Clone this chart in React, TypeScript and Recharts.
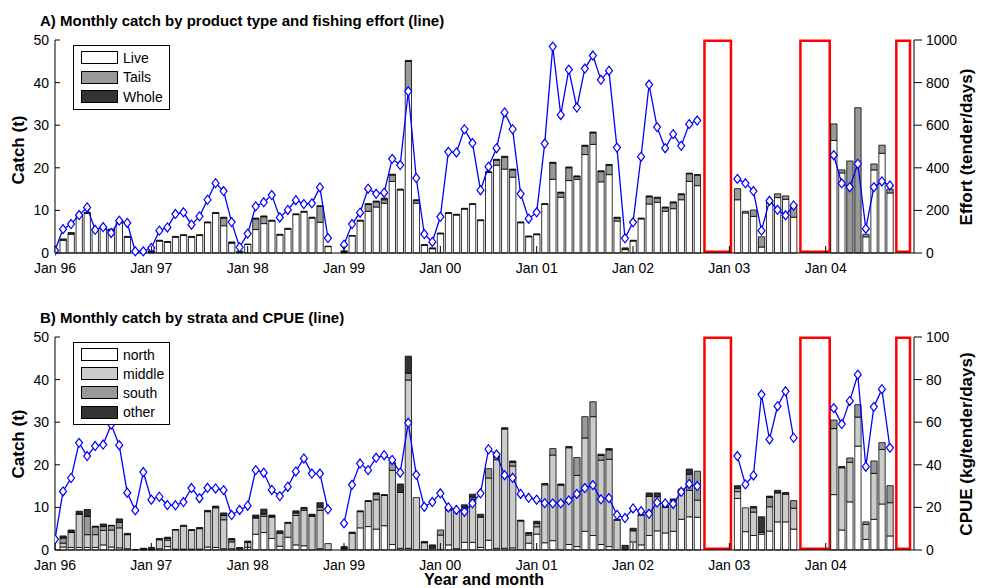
import React from "react";
import { ComposedChart, Bar, Line, XAxis, YAxis, ReferenceArea } from "recharts";

// month index 0 = Jan 96 ... 107 = Dec 04
const yearLabels = ["Jan 96", "Jan 97", "Jan 98", "Jan 99", "Jan 00", "Jan 01", "Jan 02", "Jan 03", "Jan 04"];
const yearTicks = [0, 12, 24, 36, 48, 60, 72, 84, 96];

// closed seasons (month index ranges), drawn as red boxes
const closedPeriods = [
  [80.9, 84.2],
  [92.85, 96.5],
  [104.8, 106.5],
];

// A) catch by product type (t)
const live = [
  0, 3.0, 4.4, 8.8, 9.3, 5.4, 5.9, 5.4, 7.1, 3.7,
  0, 0, 0.2, 2.8, 2.5, 3.7, 4.1, 3.7, 4.1, 7.1,
  9.3, 6.4, 2.3, 0, 2.0, 5.5, 6.9, 7.5, 4.2, 5.6,
  9.0, 9.6, 8.2, 7.2, 1.5, null, 0.2, 4.0, 7.5, 9.8,
  10.8, 11.7, 16.8, 14.8, 38.3, 11.7, 1.8, 1.0, 4.5, 9.3,
  8.9, 10.3, 11.4, 7.6, 18.9, 20.6, 19.7, 17.8, 7.1, 3.8,
  4.3, 11.4, 17.3, 13.1, 17.0, 17.3, 23.1, 25.5, 16.7, 18.4,
  7.5, 0.8, 2.8, 8.0, 11.5, 11.9, 9.8, 10.4, 12.5, 16.8,
  15.8, null, null, null, null, 12.5, 9.4, 8.6, 1.4, 11.7,
  13.0, 12.6, 8.4, null, null, null, null, 26.4, 18.8, 0,
  0, 3.8, 19.5, 23.4, 14.1, null, null, null,
];
const tails = [
  0, 0, 0, 0, 0, 0, 0, 0, 0, 0,
  0, 0, 0, 0, 0, 0, 0, 0, 0, 0,
  0, 1.8, 0, 0, 0, 2.5, 1.6, 0, 0, 0,
  0, 0, 0, 3.75, 0, null, 0, 0, 0, 1.6,
  1.2, 0.8, 1.5, 0, 6.7, 0.6, 0, 0, 0, 0,
  0, 0, 0, 0, 0, 1.2, 2.8, 1.7, 0, 0,
  0, 0, 3.8, 1.0, 3.0, 0.6, 2.0, 2.7, 2.4, 2.2,
  0.7, 0, 0, 0, 1.7, 1.0, 0.8, 1.4, 1.2, 1.8,
  2.5, null, null, null, null, 2.6, 0.4, 1.5, 2.4, 0.4,
  0.9, 0.8, 3.1, null, null, null, null, 3.9, 0.7, 21.6,
  34.1, 0.6, 1.4, 1.9, 0.9, null, null, null,
];
const whole = [
  0, 0.3, 0.4, 0.2, 0.2, 0.2, 0.2, 0.2, 0.3, 0.2,
  0.1, 0.1, 0.3, 0.2, 0.2, 0.2, 0.2, 0.2, 0.2, 0.2,
  0.2, 0.2, 0.3, 0.4, 0.1, 0.2, 0.2, 0.2, 0.2, 0.2,
  0.2, 0.2, 0.2, 0.15, 0.1, null, 0.3, 0.1, 0.2, 0.2,
  0.2, 0.4, 0.2, 0.2, 0.2, 0.2, 0.2, 0.2, 0.2, 0.2,
  0.2, 0.2, 0.2, 0.2, 0.2, 0.2, 0.2, 0.2, 0.2, 0.2,
  0.2, 0.2, 0.2, 0.2, 0.2, 0.2, 0.2, 0.2, 0.2, 0.2,
  0.2, 0.4, 0.2, 0.2, 0.2, 0.2, 0.2, 0.2, 0.2, 0.15,
  0.1, null, null, null, null, 0, 0, 0, 0, 0,
  0, 0, 0, null, null, null, null, 0, 0, 0,
  0, 0, 0, 0, 0, null, null, null,
];
// fishing effort (tender days)
const effort = [
  12, 112, 136, 178, 214, 109, 122, 94, 152, 141,
  8, 8, 23, 105, 120, 183, 191, 133, 172, 250,
  328, 291, 145, 27, 91, 219, 238, 272, 167, 202,
  248, 230, 233, 308, 70, null, 39, 136, 189, 302,
  278, 283, 442, 413, 759, 352, 89, 52, 170, 475,
  472, 581, 516, 295, 405, 492, 660, 581, 278, 161,
  191, 514, 969, 648, 861, 683, 866, 927, 813, 856,
  495, 69, 144, 452, 791, 591, 492, 558, 503, 605,
  622, null, null, null, null, 348, 327, 291, 105, 245,
  203, 177, 223, null, null, null, null, 459, 327, 309,
  419, 114, 309, 336, 317, null, null, null,
];

// B) catch by strata (t)
const north = [
  0, 0.7, 0.6, 0.6, 0.6, 0.6, 1.2, 0.7, 0.5, 0.3,
  0, 0, 0, 0.3, 0.8, 0.2, 0.2, 0.2, 0.2, 0.7,
  0.6, 0.3, 0.3, 0, 0.6, 3.7, 4.1, 2.7, 0.9, 3.0,
  1.2, 1.0, 0, 0.3, 0, null, 0, 0, 5.2, 5.5,
  4.9, 5.7, 1.3, 0.4, 0.4, 0, 0, 0, 0, 1.2,
  0.3, 1.8, 1.8, 0.6, 2.3, 0.4, 0.4, 0.5, 0, 1.6,
  3.75, 1.7, 2.2, 0, 1.3, 0.8, 4.4, 3.4, 1.3, 0.8,
  0, 0, 1.9, 1.2, 3.4, 4.5, 4.0, 4.4, 7.2, 7.8,
  7.7, null, null, null, null, 12.1, 4.3, 3.4, 3.7, 4.45,
  6.6, 6.6, 4.9, null, null, null, null, 13.0, 4.7, 11.3,
  24.4, 2.5, 7.2, 10.8, 3.3, null, null, null,
];
const middle = [
  0, 0.9, 3.5, 7.8, 3.0, 3.0, 3.4, 4.0, 4.7, 3.3,
  0, 0.2, 0.1, 2.1, 1.5, 4.5, 5.4, 4.4, 4.8, 8.3,
  9.3, 6.8, 1.6, 0.3, 1.2, 3.8, 3.8, 5.0, 3.0, 3.3,
  6.9, 8.3, 7.9, 9.0, 1.5, null, 0.3, 3.9, 3.8, 5.9,
  6.9, 7.1, 17.4, 13.1, 39.5, 12.3, 1.7, 0.4, 3.5, 8.1,
  9.0, 7.7, 10.1, 7.1, 14.6, 20.8, 28.0, 19.2, 6.8, 1.9,
  1.7, 13.6, 20.1, 15.2, 22.7, 16.7, 21.9, 27.9, 19.8, 20.5,
  7.0, 0, 2.6, 7.0, 9.2, 8.0, 6.0, 7.2, 6.9, 6.2,
  4.0, null, null, null, null, 1.6, 5.6, 5.5, 0.4, 5.7,
  6.8, 6.5, 4.9, null, null, null, null, 15.5, 14.6, 9.3,
  6.8, 3.5, 10.8, 12.8, 7.8, null, null, null,
];
const south = [
  0, 1.2, 0.1, 0.1, 4.3, 1.8, 0.9, 1.0, 1.3, 0,
  0, 0, 0, 0, 0.4, 0, 0, 0, 0, 0,
  0, 1.0, 0.5, 0, 0, 0.2, 0.5, 0.2, 0, 0,
  0.6, 0.4, 0.2, 0.8, 0, null, 0, 0, 0, 0,
  1.3, 0, 1.8, 0, 1.6, 0, 0, 0.3, 1.2, 0.4,
  0, 0.5, 0.5, 0, 2.2, 0.6, 0, 0.9, 0, 0.4,
  0.8, 0, 1.5, 0, 0, 4.2, 5.0, 3.5, 1.1, 2.2,
  0, 0, 0, 0, 0, 0, 0, 0, 0, 3.8,
  6.8, null, null, null, null, 0.8, 0, 1.0, 0, 2.2,
  0, 0, 1.8, null, null, null, null, 2.0, 0, 1.0,
  2.9, 0.6, 2.9, 1.6, 4.0, null, null, null,
];
const other = [
  0, 0.5, 0.5, 0.6, 1.6, 0.2, 0.6, 0.1, 0.8, 0.3,
  0.1, 0.2, 0.5, 0.3, 0.3, 0.1, 0.2, 0.2, 0.3, 0.3,
  0.4, 0.6, 0.3, 0.3, 0.3, 0.5, 1.2, 0.3, 0.6, 0.2,
  0.5, 0.3, 0.3, 1.0, 0, null, 0.5, 0.3, 0.2, 0.2,
  0.3, 0.2, 0, 2.0, 4.0, 0, 0.3, 0.5, 0, 0.3,
  0.3, 0.6, 0.7, 0.7, 0, 0.3, 0.3, 0.3, 0.2, 0.2,
  0.5, 0.3, 0, 0.3, 0.3, 0, 0, 0, 0.3, 0.3,
  0.2, 1.1, 0.6, 0.2, 0.8, 0.9, 0.5, 0.4, 0.2, 1.2,
  0, null, null, null, null, 0.6, 0, 0.3, 3.7, 0.3,
  0.6, 0.4, 0, null, null, null, null, 0, 0.3, 0,
  0, 0, 0, 0, 0, null, null, null,
];
// CPUE (kg/tender day)
const cpue = [
  5.0, 27.5, 33.8, 50.3, 44.1, 48.8, 49.5, 58.9, 49.2, 26.9,
  18.6, 36.6, 23.6, 25.0, 21.1, 21.0, 22.5, 29.1, 24.3, 29.2,
  28.9, 28.1, 16.4, 18.8, 20.8, 37.5, 36.3, 28.2, 25.3, 29.7,
  36.9, 43.0, 35.9, 35.9, 19.1, null, 12.5, 30.6, 40.6, 37.5,
  43.3, 44.5, 42.3, 36.3, 59.7, 35.3, 20.3, 22.5, 26.6, 20.0,
  18.8, 18.0, 21.9, 26.6, 47.3, 44.8, 35.1, 33.9, 26.3, 24.5,
  23.6, 22.0, 21.9, 21.9, 23.3, 26.3, 29.1, 30.5, 23.8, 24.4,
  16.5, 15.0, 19.5, 18.2, 17.0, 22.3, 21.9, 21.6, 27.3, 31.0,
  30.0, null, null, null, null, 44.1, 30.8, 35.0, 73.0, 51.9,
  67.5, 74.5, 52.7, null, null, null, null, 66.6, 59.1, 70.0,
  82.3, 39.1, 67.2, 75.5, 48.0, null, null, null,
];

const rowsA = live.map((v, i) => ({ m: i, live: v, tails: tails[i], whole: whole[i], effort: effort[i] }));
const rowsB = north.map((v, i) => ({ m: i, north: v, middle: middle[i], south: south[i], other: other[i], cpue: cpue[i] }));

const FONT = "'Liberation Sans', Arial, sans-serif";

const Diamond = (props: any) => {
  const { cx, cy, value, index } = props;
  if (value == null || cx == null || cy == null) return <g key={"d" + index} />;
  return (
    <polygon
      key={"d" + index}
      points={`${cx},${cy - 4.5} ${cx + 3.5},${cy} ${cx},${cy + 4.5} ${cx - 3.5},${cy}`}
      fill="#fff"
      stroke="#0000ff"
      strokeWidth={1.2}
    />
  );
};

const XTick = (props: any) => {
  const { x, y, payload } = props;
  const axisY = y - 10;
  return (
    <g>
      <line x1={x} x2={x} y1={axisY} y2={axisY - 7} stroke="#000" strokeWidth={1} />
      <text x={x} y={y} dy="0.71em" textAnchor="middle" fontSize={14} fill="#000">
        {yearLabels[Math.round(payload.value / 12)]}
      </text>
    </g>
  );
};

const LeftTick = (props: any) => {
  const { x, y, payload } = props;
  const ax = x + 6;
  return (
    <g>
      <line x1={ax} x2={ax + 5} y1={y} y2={y} stroke="#000" strokeWidth={1} />
      <text x={x} y={y} dy="0.35em" textAnchor="end" fontSize={14} fill="#000">
        {payload.value}
      </text>
    </g>
  );
};

const legendA = [
  { name: "Live", color: "#ffffff" },
  { name: "Tails", color: "#999999" },
  { name: "Whole", color: "#333333" },
];
const legendB = [
  { name: "north", color: "#ffffff" },
  { name: "middle", color: "#cccccc" },
  { name: "south", color: "#999999" },
  { name: "other", color: "#333333" },
];

const LegendBox = ({ items, left, top, width, rowH }: any) => (
  <div
    style={{
      position: "absolute",
      left,
      top,
      width,
      boxSizing: "border-box",
      border: "1px solid #000",
      background: "#fff",
      padding: "2px 0 2px 7px",
    }}
  >
    {items.map((it: any) => (
      <div key={it.name} style={{ display: "flex", alignItems: "center", height: rowH }}>
        <span
          style={{
            display: "inline-block",
            width: 37,
            height: 13,
            background: it.color,
            border: "1px solid #000",
            boxSizing: "border-box",
          }}
        />
        <span style={{ marginLeft: 5, fontSize: 14, lineHeight: "14px" }}>{it.name}</span>
      </div>
    ))}
  </div>
);

const vLabel = (text: string, cx: number, cy: number) => (
  <div
    style={{
      position: "absolute",
      left: cx,
      top: cy,
      transform: "translate(-50%, -50%) rotate(-90deg)",
      whiteSpace: "nowrap",
      fontWeight: "bold",
      fontSize: 17,
    }}
  >
    {text}
  </div>
);

const closedBoxes = () =>
  closedPeriods.map(([a, b], i) => (
    <ReferenceArea
      key={"c" + i}
      yAxisId="left"
      x1={a}
      x2={b}
      y1={0.3}
      y2={49.8}
      fill="none"
      fillOpacity={0}
      stroke="#ff0000"
      strokeWidth={2.5}
      ifOverflow="visible"
    />
  ));

const xAxis = (
  <XAxis
    dataKey="m"
    type="number"
    domain={[0, 107]}
    ticks={yearTicks}
    allowDataOverflow
    height={30}
    tickSize={6}
    tickMargin={4}
    tickLine={false}
    tick={<XTick />}
    axisLine={{ stroke: "#000" }}
  />
);

export default function App() {
  return (
    <div style={{ position: "relative", width: 982, height: 588, fontFamily: FONT, color: "#000", background: "#fff", overflow: "hidden" }}>
      <style>{`body{margin:0;}`}</style>

      <div style={{ position: "absolute", left: 0, top: 0 }}>
        <ComposedChart width={982} height={296} data={rowsA} margin={{ top: 40, right: 8, bottom: 13, left: 0 }}>
          {xAxis}
          <YAxis
            yAxisId="left"
            width={55}
            domain={[0, 50]}
            ticks={[0, 10, 20, 30, 40, 50]}
            tickSize={4}
            tickMargin={2}
            tickLine={false}
            tick={<LeftTick />}
            axisLine={{ stroke: "#000" }}
          />
          <YAxis
            yAxisId="right"
            orientation="right"
            width={60}
            domain={[0, 1000]}
            ticks={[0, 200, 400, 600, 800, 1000]}
            tickSize={8}
            tickMargin={4}
            tick={{ fill: "#000", fontSize: 14 }}
            tickLine={{ stroke: "#000" }}
            axisLine={{ stroke: "#000" }}
          />
          <Bar yAxisId="left" dataKey="live" stackId="a" fill="#ffffff" stroke="#000" strokeWidth={0.8} barSize={6.3} isAnimationActive={false} />
          <Bar yAxisId="left" dataKey="tails" stackId="a" fill="#999999" stroke="#000" strokeWidth={0.8} barSize={6.3} isAnimationActive={false} />
          <Bar yAxisId="left" dataKey="whole" stackId="a" fill="#333333" stroke="#000" strokeWidth={0.8} barSize={6.3} isAnimationActive={false} />
          {closedBoxes()}
          <Line yAxisId="right" dataKey="effort" stroke="#0000ff" strokeWidth={1.3} dot={Diamond} activeDot={false} isAnimationActive={false} />
        </ComposedChart>
      </div>

      <div style={{ position: "absolute", left: 0, top: 296 }}>
        <ComposedChart width={982} height={292} data={rowsB} margin={{ top: 41, right: 8, bottom: 8, left: 0 }}>
          {xAxis}
          <YAxis
            yAxisId="left"
            width={55}
            domain={[0, 50]}
            ticks={[0, 10, 20, 30, 40, 50]}
            tickSize={4}
            tickMargin={2}
            tickLine={false}
            tick={<LeftTick />}
            axisLine={{ stroke: "#000" }}
          />
          <YAxis
            yAxisId="right"
            orientation="right"
            width={60}
            domain={[0, 100]}
            ticks={[0, 20, 40, 60, 80, 100]}
            tickSize={8}
            tickMargin={4}
            tick={{ fill: "#000", fontSize: 14 }}
            tickLine={{ stroke: "#000" }}
            axisLine={{ stroke: "#000" }}
          />
          <Bar yAxisId="left" dataKey="north" stackId="b" fill="#ffffff" stroke="#000" strokeWidth={0.8} barSize={6.3} isAnimationActive={false} />
          <Bar yAxisId="left" dataKey="middle" stackId="b" fill="#cccccc" stroke="#000" strokeWidth={0.8} barSize={6.3} isAnimationActive={false} />
          <Bar yAxisId="left" dataKey="south" stackId="b" fill="#999999" stroke="#000" strokeWidth={0.8} barSize={6.3} isAnimationActive={false} />
          <Bar yAxisId="left" dataKey="other" stackId="b" fill="#333333" stroke="#000" strokeWidth={0.8} barSize={6.3} isAnimationActive={false} />
          {closedBoxes()}
          <Line yAxisId="right" dataKey="cpue" stroke="#0000ff" strokeWidth={1.3} dot={Diamond} activeDot={false} isAnimationActive={false} />
        </ComposedChart>
      </div>

      <div style={{ position: "absolute", left: 40, top: 12, fontSize: 15, lineHeight: "18px", fontWeight: "bold", whiteSpace: "nowrap" }}>
        A) Monthly catch by product type and fishing effort (line)
      </div>
      <div style={{ position: "absolute", left: 40, top: 309, fontSize: 15, lineHeight: "18px", fontWeight: "bold", whiteSpace: "nowrap" }}>
        B) Monthly catch by strata and CPUE (line)
      </div>

      {vLabel("Catch (t)", 19, 150)}
      {vLabel("Effort (tender/days)", 967, 147)}
      {vLabel("Catch (t)", 19, 444)}
      {vLabel("CPUE (kg/tender/days)", 967, 444)}

      <div
        style={{
          position: "absolute",
          left: 484,
          top: 572,
          transform: "translateX(-50%)",
          fontWeight: "bold",
          fontSize: 16,
          lineHeight: "16px",
          whiteSpace: "nowrap",
        }}
      >
        Year and month
      </div>

      <LegendBox items={legendA} left={73} top={45} width={97} rowH={19.5} />
      <LegendBox items={legendB} left={73} top={342} width={97} rowH={19.2} />
    </div>
  );
}
